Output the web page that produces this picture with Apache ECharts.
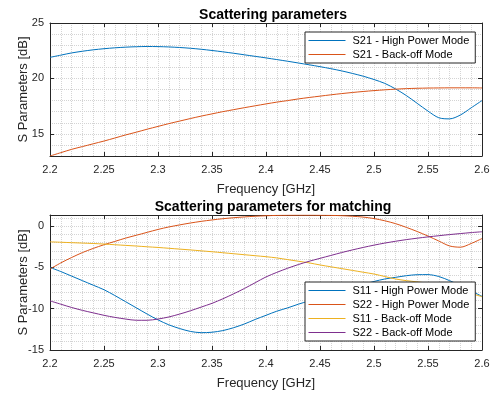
<!DOCTYPE html>
<html>
<head>
<meta charset="utf-8">
<script src="https://cdn.jsdelivr.net/npm/echarts@6/dist/echarts.min.js"></script>
<style>
  html, body { margin: 0; padding: 0; background: #fff; }
  #main { width: 493px; height: 393px; }
</style>
</head>
<body>
<div id="main"></div>
<script>
// frequency points [GHz]
const freq = [
  2.20, 2.21, 2.22, 2.23, 2.24, 2.25, 2.26, 2.27, 2.28, 2.29,
  2.30, 2.31, 2.32, 2.33, 2.34, 2.35, 2.36, 2.37, 2.38, 2.39,
  2.40, 2.41, 2.42, 2.43, 2.44, 2.45, 2.46, 2.47, 2.48, 2.49,
  2.50, 2.51, 2.52, 2.53, 2.54, 2.55, 2.56, 2.57, 2.58, 2.59, 2.60
];

// top plot: S21
const s21High = [
  21.9, 22.1, 22.3, 22.45, 22.58, 22.68, 22.76, 22.82, 22.86, 22.88,
  22.87, 22.84, 22.79, 22.72, 22.63, 22.52, 22.4, 22.27, 22.13, 21.99,
  21.85, 21.7, 21.55, 21.39, 21.23, 21.06, 20.88, 20.68, 20.45, 20.2,
  19.9, 19.55, 19.05, 18.45, 17.75, 17.05, 16.45, 16.35, 16.7, 17.35, 18.0
];
const s21Back = [
  13.0, 13.3, 13.6, 13.85, 14.1, 14.35, 14.62, 14.9, 15.15, 15.42,
  15.67, 15.92, 16.15, 16.38, 16.6, 16.8, 17.0, 17.18, 17.36, 17.53,
  17.7, 17.86, 18.0, 18.15, 18.28, 18.4, 18.52, 18.63, 18.73, 18.82,
  18.9, 18.97, 19.03, 19.08, 19.11, 19.13, 19.14, 19.15, 19.15, 19.15, 19.14
];

// bottom plot: matching
const s11High = [
  -5.0, -5.5, -6.05, -6.6, -7.15, -7.7, -8.4, -9.15, -9.9, -10.65,
  -11.35, -11.95, -12.4, -12.75, -12.9, -12.85, -12.65, -12.3, -11.85, -11.3,
  -10.8, -10.3, -9.9, -9.45, -9.05, -8.65, -8.25, -7.85, -7.45, -7.05,
  -6.7, -6.4, -6.2, -6.0, -5.88, -5.87, -6.1, -6.6, -7.2, -7.85, -8.5
];
const s22High = [
  -5.2, -4.45, -3.8, -3.2, -2.7, -2.25, -1.85, -1.45, -1.1, -0.75,
  -0.4, -0.1, 0.15, 0.38, 0.58, 0.75, 0.9, 1.02, 1.12, 1.2,
  1.26, 1.3, 1.32, 1.33, 1.33, 1.32, 1.3, 1.27, 1.2, 1.1,
  0.92, 0.65, 0.3, -0.15, -0.65, -1.2, -1.8, -2.4, -2.55, -2.1, -1.5
];
const s11Back = [
  -1.9, -1.95, -2.0, -2.05, -2.1, -2.17, -2.25, -2.33, -2.41, -2.5,
  -2.58, -2.68, -2.78, -2.88, -2.99, -3.1, -3.22, -3.34, -3.46, -3.58,
  -3.7, -3.85, -4.05, -4.25, -4.45, -4.7, -4.92, -5.14, -5.36, -5.58,
  -5.8, -6.1, -6.4, -6.6, -6.75, -6.9, -7.1, -7.4, -7.75, -8.15, -8.55
];
const s22Back = [
  -9.05, -9.45, -9.85, -10.2, -10.5, -10.8, -11.05, -11.25, -11.4, -11.4,
  -11.25, -11.0, -10.65, -10.25, -9.8, -9.35, -8.8, -8.2, -7.55, -6.85,
  -6.15, -5.6, -5.1, -4.65, -4.25, -3.9, -3.55, -3.2, -2.88, -2.58,
  -2.3, -2.05, -1.83, -1.63, -1.46, -1.3, -1.16, -1.02, -0.9, -0.78, -0.68
];

const FONT = '"Liberation Sans", Arial, Helvetica, sans-serif';
const AX = '#262626';
const GRIDC = '#d4d4d4';
const C = ['#0072BD', '#D95319', '#EDB120', '#7E2F8E'];

const pairs = (ys) => freq.map((f, i) => [f, ys[i]]);

// x axes: bottom with labels, top just ticks (box)
function xAxes(gridIndex) {
  return [
    {
      gridIndex, type: 'value', min: 2.2, max: 2.6, interval: 0.05,
      name: 'Frequency [GHz]', nameLocation: 'middle', nameGap: 27,
      nameTextStyle: { fontFamily: FONT, fontSize: 13, color: AX },
      axisLine: { onZero: false, lineStyle: { color: AX, width: 1 } },
      axisTick: { inside: true, length: 4, lineStyle: { color: AX } },
      axisLabel: { fontFamily: FONT, fontSize: 11, color: AX, margin: 8 },
      splitLine: { show: true, lineStyle: { color: GRIDC, type: 'dotted' } },
      minorTick: { show: false, splitNumber: 5 },
      minorSplitLine: { show: true, lineStyle: { color: GRIDC, type: 'dotted' } }
    },
    {
      gridIndex, type: 'value', position: 'top', min: 2.2, max: 2.6, interval: 0.05,
      axisLine: { onZero: false, lineStyle: { color: AX, width: 1 } },
      axisTick: { inside: true, length: 4, lineStyle: { color: AX } },
      axisLabel: { show: false },
      splitLine: { show: false }
    }
  ];
}

// y axes: left labels, right ticks (box), hidden one for the 1 dB grid
function yAxes(gridIndex, min, max, cfg) {
  return [
    Object.assign({
      gridIndex, type: 'value', min, max, position: 'left',
      name: 'S Parameters [dB]', nameLocation: 'middle', nameGap: 20, nameMoveOverlap: false,
      nameTextStyle: { fontFamily: FONT, fontSize: 13, color: AX },
      axisLine: { show: true, onZero: false, lineStyle: { color: AX, width: 1 } },
      axisTick: { show: true, inside: true, length: 4, lineStyle: { color: AX } },
      axisLabel: { fontFamily: FONT, fontSize: 11, color: AX, margin: 6,
        showMinLabel: cfg.showMin, showMaxLabel: cfg.showMax },
      splitLine: { show: false }
    }, cfg.ticks),
    Object.assign({
      gridIndex, type: 'value', min, max, position: 'right',
      axisLine: { show: true, onZero: false, lineStyle: { color: AX, width: 1 } },
      axisTick: { show: true, inside: true, length: 4, lineStyle: { color: AX } },
      axisLabel: { show: false },
      splitLine: { show: false }
    }, cfg.ticks),
    {
      gridIndex, type: 'value', min, max, interval: 1, position: 'left',
      axisLine: { show: false, onZero: false }, axisTick: { show: false }, axisLabel: { show: false },
      splitLine: { show: true, lineStyle: { color: GRIDC, type: 'dotted' } }
    }
  ];
}

function line(name, ys, color, xi, yi) {
  return {
    name, type: 'line', data: pairs(ys), xAxisIndex: xi, yAxisIndex: yi,
    showSymbol: false, symbol: 'none', smooth: 0.3,
    lineStyle: { color, width: 1 }, itemStyle: { color }, z: 3
  };
}

const legendBase = {
  orient: 'vertical', left: 305,
  itemWidth: 37, itemHeight: 11, itemGap: 3,
  padding: [3, 6, 3, 3],
  itemStyle: { opacity: 0 },
  lineStyle: { width: 1 },
  backgroundColor: '#fff', borderColor: AX, borderWidth: 1, borderRadius: 0,
  textStyle: { fontFamily: FONT, fontSize: 11, color: '#000', padding: [0, 0, 0, 2] }
};

const chart = echarts.init(document.getElementById('main'), null, { renderer: 'canvas' });
chart.setOption({
  animation: false,
  backgroundColor: '#fff',
  title: [
    { text: 'Scattering parameters', left: 268, top: 3, textAlign: 'center',
      textStyle: { fontFamily: FONT, fontSize: 14, fontWeight: 'bold', color: '#000' } },
    { text: 'Scattering parameters for matching', left: 268, top: 195, textAlign: 'center',
      textStyle: { fontFamily: FONT, fontSize: 14, fontWeight: 'bold', color: '#000' } }
  ],
  grid: [
    { left: 50, right: 11, top: 23, height: 133 },
    { left: 50, right: 11, top: 215, height: 135 }
  ],
  xAxis: [...xAxes(0), ...xAxes(1)],
  yAxis: [
    ...yAxes(0, 13, 25, { showMin: false, showMax: true, ticks: { splitNumber: 2 } }),
    ...yAxes(1, -15, 1.35, { showMin: true, showMax: false, ticks: { interval: 5 } })
  ],
  legend: [
    Object.assign({}, legendBase, { top: 32, data: ['S21 - High Power Mode', 'S21 - Back-off Mode'] }),
    Object.assign({}, legendBase, { top: 282, data: ['S11 - High Power Mode', 'S22 - High Power Mode', 'S11 - Back-off Mode', 'S22 - Back-off Mode'] })
  ],
  series: [
    line('S21 - High Power Mode', s21High, C[0], 0, 0),
    line('S21 - Back-off Mode', s21Back, C[1], 0, 0),
    line('S11 - High Power Mode', s11High, C[0], 2, 3),
    line('S22 - High Power Mode', s22High, C[1], 2, 3),
    line('S11 - Back-off Mode', s11Back, C[2], 2, 3),
    line('S22 - Back-off Mode', s22Back, C[3], 2, 3)
  ]
});
</script>
</body>
</html>
